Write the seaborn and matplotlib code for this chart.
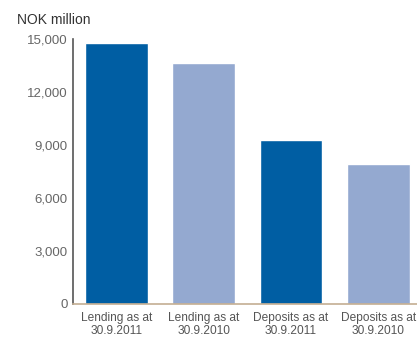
import matplotlib
matplotlib.use("Agg")
import matplotlib.pyplot as plt
import seaborn as sns
import pandas as pd

categories = ["Lending as at\n30.9.2011", "Lending as at\n30.9.2010",
              "Deposits as at\n30.9.2011", "Deposits as at\n30.9.2010"]
values = [14750, 13600, 9270, 7900]
colors = ["#005ea3", "#94a9d0", "#005ea3", "#94a9d0"]
yticks = [0, 3000, 6000, 9000, 12000, 15000]
ytick_labels = ["0", "3,000", "6,000", "9,000", "12,000", "15,000"]
unit_label = "NOK million"

sns.set_style("white")
plt.rcParams['font.family'] = ['Liberation Sans Narrow', 'Liberation Sans', 'DejaVu Sans']

df = pd.DataFrame({"cat": categories, "val": values})

fig = plt.figure(figsize=(4.17, 3.38), dpi=100)
W, H = 417, 338
x0, y0 = 72.7, 304
x1, ytop = 417, 38.7
ax = fig.add_axes([x0 / W, 1 - y0 / H, (x1 - x0) / W, (y0 - ytop) / H])

sns.barplot(data=df, x="cat", y="val", hue="cat", palette=colors, legend=False,
            width=0.72, saturation=1, ax=ax)

ax.set_ylim(0, 15000)
ax.set_xlim(-0.5, (x1 - x0) / 87.3 - 0.5)
ax.set_yticks(yticks)
ax.set_yticklabels(ytick_labels)
ax.set_xticks([0.5, 1.5, 2.5], minor=False)
ax.set_xticklabels([])
ax.set_xlabel("")
ax.set_ylabel("")

for sp in ["top", "right"]:
    ax.spines[sp].set_visible(False)
ax.spines["left"].set_color("#555555")
ax.spines["left"].set_linewidth(1.2)
ax.spines["bottom"].set_color("#c4ae92")
ax.spines["bottom"].set_linewidth(1.2)

ax.tick_params(axis="y", direction="in", length=6, width=1.2, color="#555555",
               labelsize=9.5, labelcolor="#666666", pad=3.5)
ax.tick_params(axis="x", direction="in", length=5, width=1.0, color="#444444")

for i, c in enumerate(categories):
    ax.text(i, -8 / (y0 - ytop), c, transform=ax.get_xaxis_transform(), ha="center", va="top",
            fontsize=8.6, color="#555555", linespacing=1.12)

fig.text(17 / W, 1 - 12.5 / H, unit_label, ha="left", va="top", fontsize=10, color="#333333")

fig.savefig("out.png", dpi=100)
